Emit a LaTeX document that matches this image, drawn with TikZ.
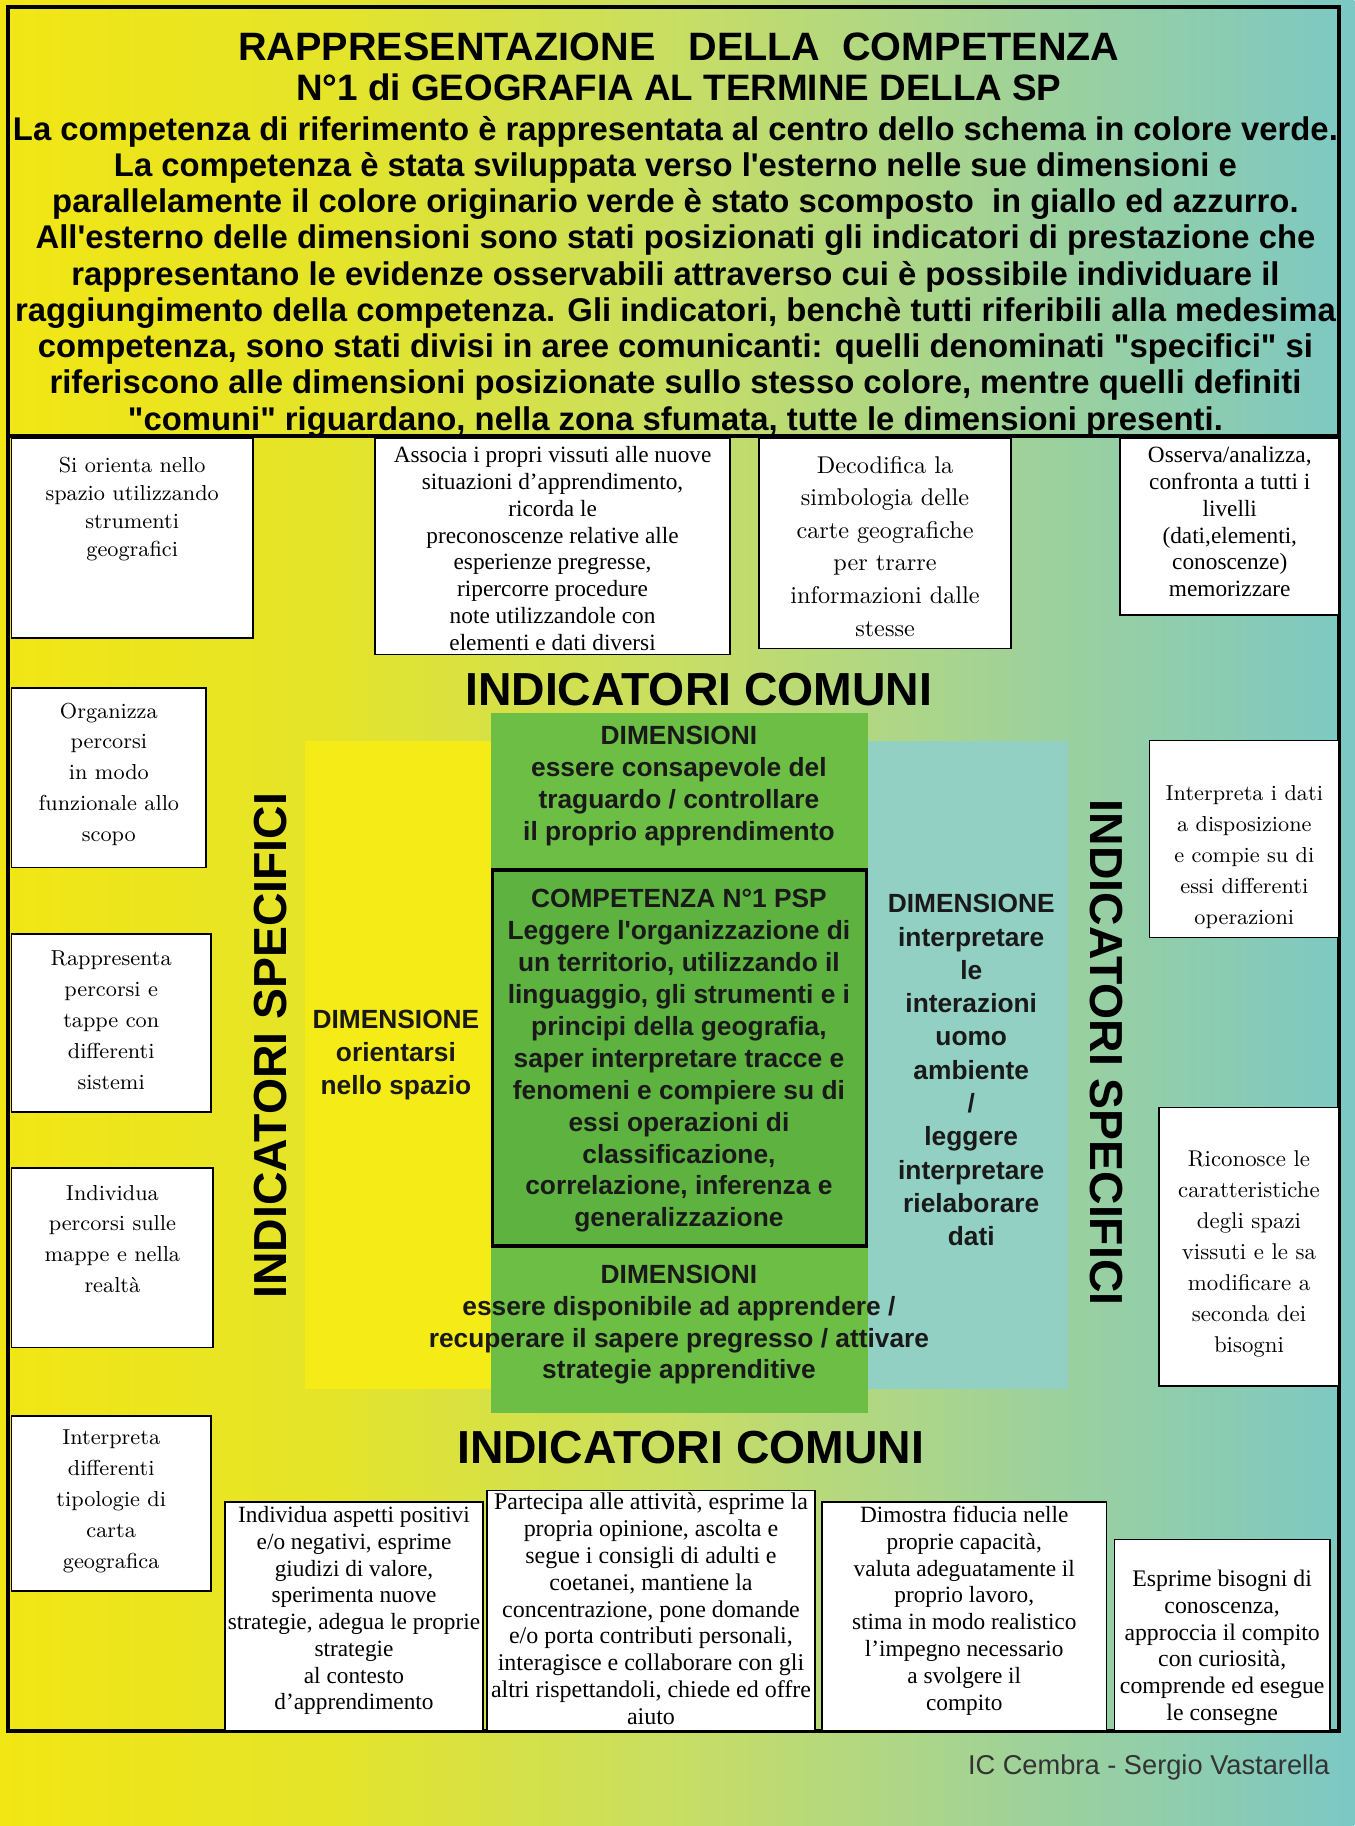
\documentclass[tikz,border=0pt]{standalone}
\usepackage{fontspec}
\newfontfamily\arial[Ligatures=TeXOff]{Liberation Sans}
\newfontfamily\tnr{Liberation Serif}
\newcommand\fsz[2]{\fontsize{#1}{#2}\selectfont}
\definecolor{bgA}{RGB}{242,230,20}
\definecolor{bgB}{RGB}{228,228,42}
\definecolor{bgC}{RGB}{200,222,100}
\definecolor{bgD}{RGB}{160,210,152}
\definecolor{bgE}{RGB}{124,200,196}
\definecolor{dimyellow}{RGB}{245,235,22}
\definecolor{dimgreen}{RGB}{108,190,68}
\definecolor{compgreen}{RGB}{94,178,64}
\definecolor{dimteal}{RGB}{145,208,194}
\pgfdeclarehorizontalshading{bgshade}{100bp}{color(0bp)=(bgA); color(25bp)=(bgA); color(37.5bp)=(bgB); color(50bp)=(bgC); color(62.5bp)=(bgD); color(75bp)=(bgE); color(100bp)=(bgE)}
\begin{document}
\begin{tikzpicture}[x=0.5pt,y=-0.5pt,
  ibox/.style={draw=black, fill=white, line width=0.7pt},
  lmtxt/.style={align=center, inner sep=0pt, font=\rmfamily\fsz{9.3}{13.3}},
  tntxt/.style={align=center, inner sep=0pt, font=\tnr\fsz{10}{11.5}},
  bigtxt/.style={inner sep=0pt, font=\arial\bfseries\fsz{19.9}{20}},
  dimtxt/.style={align=center, inner sep=0pt, font=\arial\bfseries\fsz{11.3}{13.7}, text=black!90},
]
\useasboundingbox (0,0) rectangle (1163,1568);
% background
\fill[shading=bgshade] (0,0) rectangle (1163,1568);
% central coloured areas
\fill[dimyellow] (262,636) rectangle (425,1193);
\fill[dimteal] (745,636) rectangle (917,1193);
\fill[dimgreen] (422,612) rectangle (745,1213);
\draw[fill=compgreen, line width=1.5pt] (423,747) rectangle (744,1070);
% frame and separator
\draw[line width=1.7pt] (7,6) rectangle (1150,1486);
\draw[line width=1.7pt] (7,374) -- (1150,374);
% header
\node[font=\arial\bfseries\fsz{17}{17.5}, align=center, inner sep=0pt] (title) at (583,57.5)
  {RAPPRESENTAZIONE\ \ \ DELLA\ \ COMPETENZA\\\fsz{15.8}{17.5}N°1 di GEOGRAFIA AL TERMINE DELLA SP};
\node[font=\arial\bfseries\fsz{14.1}{15.55}, align=center, inner sep=0pt] (intro) at (580,237.5)
  {La competenza di riferimento è rappresentata al centro dello schema in colore verde.\\
   La competenza è stata sviluppata verso l'esterno nelle sue dimensioni e\\
   parallelamente il colore originario verde è stato scomposto\ \ in giallo ed azzurro.\\
   All'esterno delle dimensioni sono stati posizionati gli indicatori di prestazione che\\
   rappresentano le evidenze osservabili attraverso cui è possibile individuare il\\
   raggiungimento della competenza. Gli indicatori, benchè tutti riferibili alla medesima\\
   competenza, sono stati divisi in aree comunicanti: quelli denominati "specifici" si\\
   riferiscono alle dimensioni posizionate sullo stesso colore, mentre quelli definiti\\
   "comuni" riguardano, nella zona sfumata, tutte le dimensioni presenti.};
% indicator boxes
\draw[ibox] (10,376) rectangle (217,548);
\node[lmtxt, font=\rmfamily\fsz{9.3}{12}] (t1) at (113.5,437) {Si orienta nello\\spazio utilizzando\\strumenti\\geografici};
\draw[ibox] (322,376) rectangle (627,562);
\node[tntxt] (t2) at (474.5,471) {Associa i propri vissuti alle nuove\\situazioni d’apprendimento,\\ricorda le\\preconoscenze relative alle\\esperienze pregresse,\\ripercorre procedure\\note utilizzandole con\\elementi e dati diversi};
\draw[ibox] (652,376) rectangle (868,557);
\node[lmtxt, font=\rmfamily\fsz{10.4}{14}] (t3) at (760,469) {Decodifica la\\simbologia delle\\carte geografiche\\per trarre\\informazioni dalle\\stesse};
\draw[ibox] (962,376) rectangle (1150,528);
\node[tntxt] (t4) at (1056,448) {Osserva/analizza,\\confronta a tutti i\\livelli\\(dati,elementi,\\conoscenze)\\memorizzare};
\draw[ibox] (10,591) rectangle (177,745);
\node[lmtxt] (t5) at (93.5,665) {Organizza\\percorsi\\in modo\\funzionale allo\\scopo};
\draw[ibox] (10,802) rectangle (181,955);
\node[lmtxt] (t6) at (95.5,876) {Rappresenta\\percorsi e\\tappe con\\differenti\\sistemi};
\draw[ibox] (10,1003) rectangle (183,1157);
\node[lmtxt] (t7) at (96.5,1064) {Individua\\percorsi sulle\\mappe e nella\\realtà};
\draw[ibox] (10,1216) rectangle (181,1366);
\node[lmtxt] (t8) at (95.5,1289) {Interpreta\\differenti\\tipologie di\\carta\\geografica};
\draw[ibox] (987,636) rectangle (1150,805);
\node[lmtxt] (t9) at (1068.5,736) {Interpreta i dati\\a disposizione\\e compie su di\\essi differenti\\operazioni};
\draw[ibox] (995,951) rectangle (1150,1190);
\node[lmtxt, font=\rmfamily\fsz{9.8}{13.3}] (t10) at (1072.5,1077) {Riconosce le\\caratteristiche\\degli spazi\\vissuti e le sa\\modificare a\\seconda dei\\bisogni};
\draw[ibox] (193,1290) rectangle (415,1486);
\node[tntxt] (t11) at (304,1383) {Individua aspetti positivi\\e/o negativi, esprime\\giudizi di valore,\\sperimenta nuove\\strategie, adegua le proprie\\strategie\\al contesto\\d’apprendimento};
\draw[ibox] (418,1280) rectangle (700,1486);
\node[tntxt, font=\tnr\fsz{10.3}{11.5}] (t12) at (559,1381.5) {Partecipa alle attività, esprime la\\propria opinione, ascolta e\\segue i consigli di adulti e\\coetanei, mantiene la\\concentrazione, pone domande\\e/o porta contributi personali,\\interagisce e collaborare con gli\\altri rispettandoli, chiede ed offre\\aiuto};
\draw[ibox] (706,1290) rectangle (950,1486);
\node[tntxt] (t13) at (828,1383) {Dimostra fiducia nelle\\proprie capacità,\\valuta adeguatamente il\\proprio lavoro,\\stima in modo realistico\\l’impegno necessario\\a svolgere il\\compito};
\draw[ibox] (957,1322) rectangle (1142,1486);
\node[tntxt, font=\tnr\fsz{10.2}{11.5}] (t14) at (1049.5,1415) {Esprime bisogni di\\conoscenza,\\approccia il compito\\con curiosità,\\comprende ed esegue\\le consegne};
% big labels
\node[bigtxt] (comTop) at (600,592) {INDICATORI COMUNI};
\node[bigtxt] (comBot) at (593,1243) {INDICATORI COMUNI};
\node[bigtxt, rotate=90] (specL) at (232,898) {INDICATORI SPECIFICI};
\node[bigtxt, rotate=-90] (specR) at (950,904) {INDICATORI SPECIFICI};
% dimension texts
\node[dimtxt] (dTop) at (583,675) {DIMENSIONI\\essere consapevole del\\traguardo / controllare\\il proprio apprendimento};
\node[dimtxt] (comp) at (583,911) {COMPETENZA N°1 PSP\\Leggere l'organizzazione di\\un territorio, utilizzando il\\linguaggio, gli strumenti e i\\principi della geografia,\\saper interpretare tracce e\\fenomeni e compiere su di\\essi operazioni di\\classificazione,\\correlazione, inferenza e\\generalizzazione};
\node[dimtxt] (dBot) at (583,1137.5) {DIMENSIONI\\essere disponibile ad apprendere /\\recuperare il sapere pregresso / attivare\\strategie apprenditive};
\node[dimtxt, font=\arial\bfseries\fsz{11.3}{14}] (dLeft) at (340,906) {DIMENSIONE\\orientarsi\\nello spazio};
\node[dimtxt, font=\arial\bfseries\fsz{11.3}{14.3}] (dRight) at (834,919) {DIMENSIONE\\interpretare\\le\\interazioni\\uomo\\ambiente\\/\\leggere\\interpretare\\rielaborare\\dati};
% footer
\node[anchor=east, font=\arial\fsz{11.7}{12}, text=black!80, inner sep=0pt] (credit) at (1142,1518) {IC Cembra - Sergio Vastarella};
\end{tikzpicture}
\end{document}
